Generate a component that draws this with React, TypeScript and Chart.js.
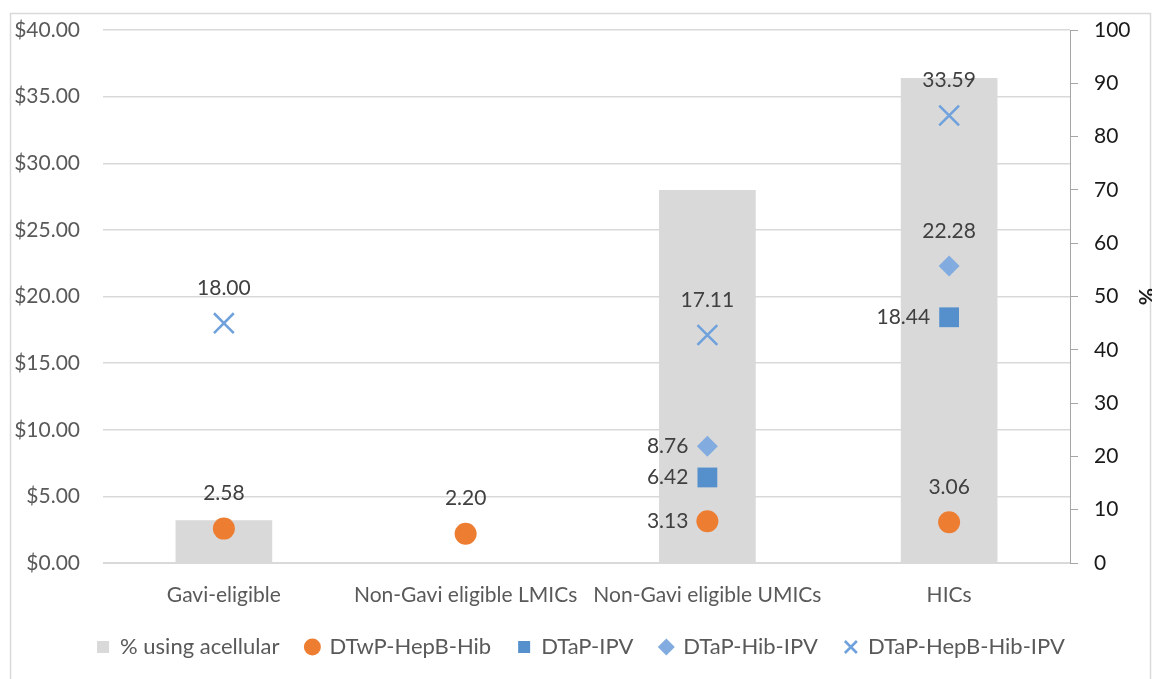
import React, { useEffect, useRef } from "react";
import { Chart, registerables } from "chart.js";

Chart.register(...registerables);

const categories = ["Gavi-eligible", "Non-Gavi eligible LMICs", "Non-Gavi eligible UMICs", "HICs"];
const pctAcellular = [8, 0, 70, 91];
const dtwpHepbHib = [2.58, 2.2, 3.13, 3.06];
const dtapIpv = [null, null, 6.42, 18.44];
const dtapHibIpv = [null, null, 8.76, 22.28];
const dtapHepbHibIpv = [18.0, null, 17.11, 33.59];

const leftTicks = { min: 0, max: 40, step: 5 };
const rightTicks = { min: 0, max: 100, step: 10 };

// label placement per point (style, not data)
const labelPlacement: Record<number, (string | null)[]> = {
  1: ["above", "above", "left", "above"],
  2: [null, null, "left", "left"],
  3: [null, null, "left", "above"],
  4: ["above", null, "above", "above"],
};

const FONT = "Lato, 'Open Sans', sans-serif";
const FS = 21;

const borderPlugin = {
  id: "outerBorder",
  beforeDraw(chart: any) {
    const ctx = chart.ctx;
    ctx.save();
    ctx.strokeStyle = "#d9d9d9";
    ctx.lineWidth = 1.5;
    ctx.strokeRect(10.5, 13.5, 1140, 700);
    ctx.restore();
  },
};

const labelPlugin = {
  id: "pointLabels",
  afterDatasetsDraw(chart: any) {
    const ctx = chart.ctx;
    ctx.save();
    ctx.font = `${FS}px ${FONT}`;
    ctx.fillStyle = "#404040";
    ctx.textBaseline = "middle";
    [1, 2, 3, 4].forEach((di) => {
      const meta = chart.getDatasetMeta(di);
      const ds = chart.data.datasets[di];
      meta.data.forEach((el: any, i: number) => {
        const v = ds.data[i];
        if (v === null || v === undefined) return;
        const pos = labelPlacement[di][i];
        const txt = Number(v).toFixed(2);
        if (pos === "left") {
          ctx.textAlign = "right";
          ctx.fillText(txt, el.x - 19, el.y);
        } else {
          ctx.textAlign = "center";
          ctx.fillText(txt, el.x, el.y - 35);
        }
      });
    });
    ctx.restore();
  },
};

export default function App() {
  const ref = useRef<HTMLCanvasElement | null>(null);
  useEffect(() => {
    if (!ref.current) return;
    const pointDs = (label: string, data: any[], color: string, style: string, radius: number, extra: any = {}) => ({
      type: "line",
      label,
      data,
      yAxisID: "y",
      showLine: false,
      pointStyle: style,
      pointRadius: radius,
      pointHoverRadius: radius,
      backgroundColor: color,
      borderColor: color,
      pointBorderWidth: 0,
      ...extra,
    });
    const chart = new Chart(ref.current, {
      type: "bar",
      data: {
        labels: categories,
        datasets: [
          {
            type: "bar",
            label: "% using acellular",
            data: pctAcellular,
            yAxisID: "y1",
            backgroundColor: "#d9d9d9",
            pointStyle: "rect",
            categoryPercentage: 0.4,
            barPercentage: 1,
            order: 10,
          } as any,
          pointDs("DTwP-HepB-Hib", dtwpHepbHib, "#ed7d31", "circle", 11),
          pointDs("DTaP-IPV", dtapIpv, "#5590cc", "rect", 14),
          pointDs("DTaP-Hib-IPV", dtapHibIpv, "#82acdf", "rectRot", 10.5),
          pointDs("DTaP-HepB-Hib-IPV", dtapHepbHibIpv, "#6fa1dc", "crossRot", 14, { pointBorderWidth: 2.5 }),
        ],
      },
      options: {
        animation: false,
        responsive: false,
        maintainAspectRatio: false,
        layout: { padding: { top: 30, left: 10, right: 0, bottom: 11 } },
        plugins: {
          tooltip: { enabled: false },
          legend: {
            position: "bottom",
            labels: {
              usePointStyle: true,
              boxWidth: 12,
              boxHeight: 12,
              padding: 27,
              color: "#595959",
              font: { family: FONT, size: 22 },
              sort: (a: any, b: any) => a.datasetIndex - b.datasetIndex,
            },
          },
        },
        scales: {
          x: {
            grid: { display: false, drawTicks: false },
            border: { display: true, color: "#d9d9d9" },
            ticks: { color: "#595959", font: { family: FONT, size: FS }, padding: 20, maxRotation: 0 },
            afterFit(scale: any) {
              scale.height = 46;
            },
          },
          y: {
            position: "left",
            min: leftTicks.min,
            max: leftTicks.max,
            ticks: {
              stepSize: leftTicks.step,
              color: "#595959",
              font: { family: FONT, size: FS },
              padding: 3,
              callback: (v: any) => "$" + Number(v).toFixed(2),
            },
            grid: { color: "#d9d9d9", lineWidth: 1.5, drawTicks: true, tickLength: 20, tickColor: "rgba(0,0,0,0)" },
            border: { display: false },
            afterFit(scale: any) {
              scale.width = 93;
            },
          },
          y1: {
            position: "right",
            min: rightTicks.min,
            max: rightTicks.max,
            ticks: {
              stepSize: rightTicks.step,
              color: "#1a1a1a",
              font: { family: FONT, size: FS },
              padding: 16,
            },
            grid: { drawOnChartArea: false, color: "#a6a6a6", tickLength: 8 },
            border: { display: true, color: "#a6a6a6" },
            title: {
              display: true,
              text: "%",
              color: "#1a1a1a",
              font: { family: FONT, size: FS, weight: "bold" },
              padding: { top: -6, bottom: 0 },
            },
            afterFit(scale: any) {
              scale.width = 82;
            },
          },
        },
      } as any,
      plugins: [borderPlugin, labelPlugin],
    });
    return () => chart.destroy();
  }, []);
  return (
    <div style={{ position: "fixed", left: 0, top: 0, width: 1152, height: 679, background: "#fff" }}>
      <canvas ref={ref} width={1152} height={679} style={{ width: 1152, height: 679 }} />
    </div>
  );
}
